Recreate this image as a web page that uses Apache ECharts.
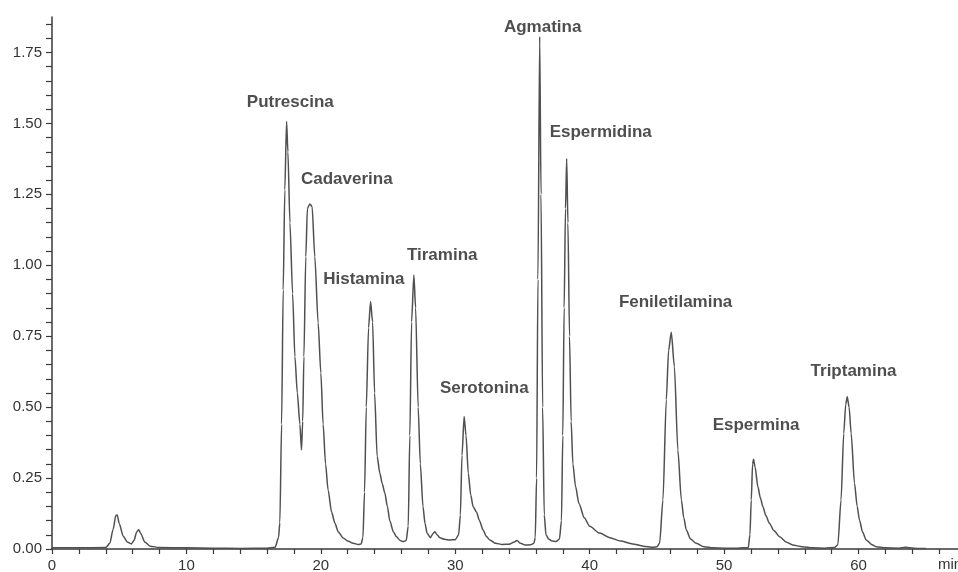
<!DOCTYPE html>
<html>
<head>
<meta charset="utf-8">
<script src="https://cdn.jsdelivr.net/npm/echarts@6/dist/echarts.min.js"></script>
<style>
html,body{margin:0;padding:0;background:#fff;overflow:hidden;}
#chart{width:958px;height:572px;}
</style>
</head>
<body>
<div id="chart"></div>
<script>
// Retention time (min)
var times = [0,2,4.0,4.3,4.55,4.75,4.85,5.0,5.3,5.6,5.9,6.1,6.3,6.45,6.6,6.9,7.3,8.0,10,12,14,16,16.6,16.85,16.95,17.08,17.2,17.32,17.45,17.55,17.7,17.9,18.07,18.25,18.44,18.56,18.65,18.74,18.88,19.0,19.18,19.35,19.55,19.8,20.0,20.17,20.35,20.54,20.8,21.04,21.3,21.66,22.0,22.4,22.8,23.0,23.13,23.25,23.38,23.55,23.7,23.85,24.0,24.19,24.39,24.57,24.76,24.95,25.13,25.4,25.63,25.9,26.12,26.35,26.5,26.62,26.75,26.92,27.05,27.24,27.4,27.6,27.75,27.9,28.15,28.35,28.48,28.65,28.85,29.2,29.6,30.0,30.25,30.38,30.5,30.66,30.8,30.97,31.15,31.33,31.58,31.8,32.07,32.3,32.57,33.0,33.5,34.0,34.4,34.6,34.85,35.2,35.6,35.85,35.95,36.05,36.15,36.28,36.38,36.5,36.62,36.75,36.95,37.2,37.5,37.75,37.9,38.0,38.1,38.2,38.29,38.38,38.5,38.62,38.75,38.95,39.2,39.6,40.0,40.74,41.5,42.3,43.2,44.0,44.7,45.0,45.2,45.45,45.7,45.87,46.07,46.3,46.56,46.82,47.0,47.19,47.5,47.93,48.5,49.17,50.0,51.0,51.8,51.92,52.02,52.12,52.19,52.3,52.51,52.7,52.89,53.1,53.38,53.7,54.13,54.6,55.1,55.8,56.6,57.5,58.2,58.46,58.7,58.9,59.05,59.16,59.3,59.45,59.7,59.9,60.07,60.3,60.57,61.0,61.3,62.0,63.0,63.5,63.8,64.5,65];
// Detector signal
var signal = [0.004,0.004,0.005,0.02,0.07,0.118,0.12,0.09,0.045,0.025,0.018,0.03,0.06,0.068,0.055,0.025,0.01,0.005,0.004,0.003,0.002,0.003,0.006,0.04,0.092,0.44,0.913,1.266,1.507,1.40,1.15,0.90,0.678,0.55,0.44,0.349,0.45,0.678,1.03,1.20,1.216,1.207,1.03,0.797,0.62,0.44,0.30,0.208,0.13,0.092,0.06,0.039,0.028,0.02,0.016,0.018,0.04,0.2,0.50,0.78,0.872,0.80,0.55,0.326,0.267,0.23,0.197,0.15,0.10,0.06,0.043,0.03,0.026,0.03,0.08,0.40,0.80,0.966,0.85,0.50,0.30,0.149,0.09,0.056,0.04,0.055,0.061,0.05,0.04,0.034,0.032,0.033,0.05,0.12,0.33,0.467,0.40,0.267,0.19,0.149,0.13,0.10,0.067,0.045,0.032,0.02,0.016,0.017,0.025,0.03,0.02,0.014,0.015,0.02,0.04,0.25,0.95,1.806,1.25,0.5,0.12,0.05,0.035,0.028,0.026,0.035,0.10,0.40,0.85,1.20,1.376,1.15,0.75,0.45,0.30,0.22,0.16,0.11,0.08,0.056,0.04,0.028,0.018,0.01,0.006,0.008,0.02,0.173,0.526,0.70,0.764,0.643,0.349,0.173,0.11,0.067,0.035,0.02,0.008,0.004,0.003,0.003,0.005,0.05,0.173,0.30,0.316,0.29,0.22,0.18,0.149,0.118,0.09,0.065,0.043,0.025,0.014,0.008,0.004,0.003,0.005,0.015,0.173,0.408,0.51,0.537,0.50,0.408,0.232,0.15,0.102,0.06,0.032,0.015,0.008,0.004,0.003,0.006,0.004,0.002,0.002];
// Peak annotations
var peakNames = ['Putrescina','Cadaverina','Histamina','Tiramina','Serotonina','Agmatina','Espermidina','Feniletilamina','Espermina','Triptamina'];
var labelTimes = [17.73,21.93,23.2,29.03,32.16,36.5,40.82,46.39,52.38,59.63];
var labelValues = [1.573,1.302,0.949,1.034,0.568,1.838,1.467,0.868,0.437,0.628];
// Axis ticks and labels
var xTickValues = [0,2,4,6,8,10,12,14,16,18,20,22,24,26,28,30,32,34,36,38,40,42,44,46,48,50,52,54,56,58,60,62,64,66];
var xLabelValues = [0,10,20,30,40,50,60];
var yTickValues = [0,0.05,0.1,0.15,0.2,0.25,0.3,0.35,0.4,0.45,0.5,0.55,0.6,0.65,0.7,0.75,0.8,0.85,0.9,0.95,1.0,1.05,1.1,1.15,1.2,1.25,1.3,1.35,1.4,1.45,1.5,1.55,1.6,1.65,1.7,1.75,1.8,1.85];
var yLabelValues = [0,0.25,0.5,0.75,1.0,1.25,1.5,1.75];
var xUnit = 'min';

var lineData = times.map(function(t,i){return [t, signal[i]];});
var labelData = peakNames.map(function(n,i){return {name:n, value:[labelTimes[i], labelValues[i]]};});

var chart = echarts.init(document.getElementById('chart'), null, {renderer:'canvas'});
var axisColor = '#3a3a3a';
chart.setOption({
  animation:false,
  backgroundColor:'#ffffff',
  grid:{left:52, right:0, top:17, bottom:23, containLabel:false, outerBoundsMode:'none'},
  xAxis:{
    type:'value', min:0, max:67.4,
    name:xUnit, nameLocation:'end', nameGap:-20,
    nameTextStyle:{fontFamily:'Liberation Sans', fontSize:15, color:'#333', align:'left', verticalAlign:'top', padding:[8,0,0,0]},
    axisLine:{show:true, onZero:false, lineStyle:{color:axisColor, width:1.5}},
    axisTick:{show:true, length:5, customValues:xTickValues, lineStyle:{color:axisColor, width:1.2}},
    axisLabel:{customValues:xLabelValues, margin:9, fontFamily:'Liberation Sans', fontSize:15, color:'#333'},
    splitLine:{show:false}
  },
  yAxis:{
    type:'value', min:0, max:1.875,
    axisLine:{show:true, onZero:false, lineStyle:{color:axisColor, width:1.5}},
    axisTick:{show:true, length:6, customValues:yTickValues, lineStyle:{color:axisColor, width:1.2}},
    axisLabel:{customValues:yLabelValues, margin:10, fontFamily:'Liberation Sans', fontSize:15, color:'#333',
      formatter:function(v){return v.toFixed(2);}},
    splitLine:{show:false}
  },
  series:[
    {type:'line', data:lineData, showSymbol:false, symbol:'none', smooth:0.25, smoothMonotone:'x',
     lineStyle:{color:'#505050', width:1.5}, z:2},
    {type:'scatter', data:labelData, symbolSize:0, silent:true,
     label:{show:true, position:'inside', formatter:'{b}', fontFamily:'Liberation Sans', fontWeight:'bold', fontSize:17, color:'#222'}, z:3}
  ]
});
</script>
</body>
</html>
